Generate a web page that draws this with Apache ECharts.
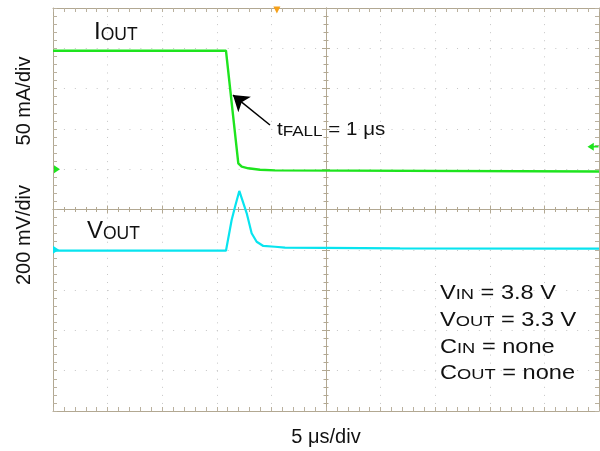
<!DOCTYPE html>
<html>
<head>
<meta charset="utf-8">
<script src="https://cdn.jsdelivr.net/npm/echarts@6/dist/echarts.min.js"></script>
<style>
  html, body { margin: 0; padding: 0; background: #fff; }
  #chart { width: 600px; height: 451px; }
</style>
</head>
<body>
<div id="chart"></div>
<script>
// ---- Scope capture: load step from 150 mA to 0 ----
// Time in µs (5 µs/div, 10 divisions centred on 0)
const currentTimeUs = [-25, -9.16, -8.03, -7.72, -7.12, -6.04, -4.67, 25];
// Output current, mA (50 mA/div)
const currentMA     = [147, 147, 7.3, 3.1, 1.1, -0.6, -1.5, -2.8];

const voltageTimeUs = [-25, -9.16, -8.64, -8.33, -7.94, -7.26, -6.81, -6.35, -5.74, -4.67, -3.75, 6.78, 25];
// Output voltage deviation, mV (200 mV/div)
const voltageMV     = [-4.5, -4.5, 148, 214, 292, 181, 82, 40, 19, 15, 11, 7, 6];

// Axis ranges (10 divisions each)
const timeRange    = [-25, 25];
const currentRange = [-300, 200];
const voltageRange = [-800, 1200];

// Channel / trigger markers
const currentGround   = [-25, 0];
const voltageGround   = [-25, 0];
const triggerPosition = [-4.5, 200];
const triggerLevel    = [25, 28];

// Annotation arrow (tail -> head), in time / current units
const fallArrow = [[-5.13, 54.8], [-8.52, 92]];

// Text
const xAxisName    = '5 μs/div';
const currentScale = '50 mA/div';
const voltageScale = '200 mV/div';
const conditions = [
  [['V', 'm'], ['IN', 's'], [' = 3.8 V', 'm']],
  [['V', 'm'], ['OUT', 's'], [' = 3.3 V', 'm']],
  [['C', 'm'], ['IN', 's'], [' = none', 'm']],
  [['C', 'm'], ['OUT', 's'], [' = none', 'm']]
];
const ioutLabel  = [['I', 'M'], ['OUT', 'S']];
const voutLabel  = [['V', 'M'], ['OUT', 'S']];
const tfallLabel = [['t', 't'], ['FALL', 'u'], [' = 1 μs', 't']];

const FONT = '"Liberation Sans", Arial, Helvetica, sans-serif';
const FRAME = '#b2a892';
const TICK = '#bab19f';
const DOT = '#c6c6c6';
const GREEN = '#1ee41e';
const CYAN = '#08e4ef';
const ORANGE = '#f5a019';

function tok(size, lh) {
  return { fontSize: size, lineHeight: lh, verticalAlign: 'bottom', fontFamily: FONT, fill: '#111' };
}
const RICH = {
  m: tok(20, 22), s: tok(15.5, 8),   // condition block
  M: tok(24, 24), S: tok(17.5, 18),  // trace names
  t: tok(18, 20), u: tok(15, 9)      // fall-time note
};

function richText(parts) {
  return parts.map(p => '{' + p[1] + '|' + p[0] + '}').join('');
}

function textEl(parts, x, y, sx) {
  return {
    type: 'text', x: x, y: y, scaleX: sx || 1, z: 50,
    style: {
      text: richText(parts), rich: RICH, fill: '#111',
      align: 'left', verticalAlign: 'middle',
      textAlign: 'left', textVerticalAlign: 'middle'
    }
  };
}

function plainText(str, x, y, rot) {
  return {
    type: 'text', x: x, y: y, rotation: rot || 0, z: 50,
    style: {
      text: str, fontSize: 20, fontFamily: FONT, fill: '#111',
      align: 'center', verticalAlign: 'middle',
      textAlign: 'center', textVerticalAlign: 'middle'
    }
  };
}

function zip(a, b) { return a.map((v, i) => [v, b[i]]); }

function frameAxis(extra) {
  return Object.assign({
    type: 'value',
    axisLine: { show: true, onZero: false, lineStyle: { color: FRAME, width: 1 } },
    axisTick: { show: true, inside: true, length: 4, lineStyle: { color: TICK } },
    minorTick: { show: true, splitNumber: 5, length: 4, lineStyle: { color: TICK } },
    axisLabel: { show: false },
    splitLine: { show: false }
  }, extra);
}

function centerAxis(extra, inside, zeroIdx) {
  return Object.assign({
    type: 'value',
    axisLine: { show: true, onZero: true, onZeroAxisIndex: zeroIdx, lineStyle: { color: FRAME, width: 1 } },
    axisTick: { show: true, inside: inside, length: 4, lineStyle: { color: FRAME } },
    minorTick: { show: true, splitNumber: 5, length: 2.5, lineStyle: { color: FRAME } },
    axisLabel: { show: false },
    splitLine: { show: false }
  }, extra);
}

const RIGHT_TRI = 'path://M0,0L10,5L0,10Z';
const LEFT_ARROW = 'path://M0,5L8,0L8,4L14,4L14,6L8,6L8,10Z';
const DOWN_TRI = 'path://M0,0L10,0L5,10Z';

const chart = echarts.init(document.getElementById('chart'), null, { renderer: 'canvas' });

chart.setOption({
  animation: false,
  backgroundColor: '#fff',
  grid: { left: 53, top: 8, width: 546, height: 403, containLabel: false, outerBoundsMode: 'none' },
  xAxis: [
    frameAxis({
      min: timeRange[0], max: timeRange[1], interval: 5, position: 'bottom',
      name: xAxisName, nameLocation: 'middle', nameGap: 16,
      nameTextStyle: { fontSize: 20, fontFamily: FONT, color: '#111' },
      splitLine: { show: true, lineStyle: { color: DOT, width: 1, type: [1, 7.06] } }
    }),
    frameAxis({ min: timeRange[0], max: timeRange[1], interval: 5, position: 'top' }),
    centerAxis({ min: timeRange[0], max: timeRange[1], interval: 5, position: 'bottom' }, true, 2),
    centerAxis({ min: timeRange[0], max: timeRange[1], interval: 5, position: 'bottom' }, false, 2)
  ],
  yAxis: [
    frameAxis({
      min: currentRange[0], max: currentRange[1], interval: 50, position: 'left',
      splitLine: { show: true, lineStyle: { color: DOT, width: 1, type: [1, 9.92] } }
    }),
    frameAxis({ min: voltageRange[0], max: voltageRange[1], interval: 200, position: 'right' }),
    centerAxis({ min: -5, max: 5, interval: 1, position: 'left' }, true, 0),
    centerAxis({ min: -5, max: 5, interval: 1, position: 'left' }, false, 0)
  ],
  series: [
    {
      name: 'IOUT', type: 'line', xAxisIndex: 0, yAxisIndex: 0,
      data: zip(currentTimeUs, currentMA),
      showSymbol: false, smooth: false, z: 5,
      lineStyle: { color: GREEN, width: 2.4 },
      markPoint: {
        label: { show: false },
        data: [
          { coord: currentGround, symbol: RIGHT_TRI, symbolSize: [6, 8], symbolOffset: [4, 0], itemStyle: { color: GREEN } },
          { coord: triggerLevel, symbol: LEFT_ARROW, symbolSize: [11, 8], symbolOffset: [-6, 0], itemStyle: { color: GREEN } },
          { coord: triggerPosition, symbol: DOWN_TRI, symbolSize: [7, 7], symbolOffset: [0, 2], itemStyle: { color: ORANGE } }
        ]
      }
    },
    {
      name: 'VOUT', type: 'line', xAxisIndex: 0, yAxisIndex: 1,
      data: zip(voltageTimeUs, voltageMV),
      showSymbol: false, smooth: false, z: 4,
      lineStyle: { color: CYAN, width: 2.2 },
      markPoint: {
        label: { show: false },
        data: [
          { coord: voltageGround, symbol: RIGHT_TRI, symbolSize: [6, 8], symbolOffset: [3, 0], itemStyle: { color: CYAN } }
        ]
      }
    },
    {
      type: 'lines', coordinateSystem: 'cartesian2d', xAxisIndex: 0, yAxisIndex: 0,
      symbol: ['none', 'arrow'], symbolSize: [11, 15], z: 6,
      lineStyle: { color: '#000', width: 1.5, opacity: 1, curveness: 0 },
      data: [{ coords: fallArrow }]
    }
  ],
  graphic: [
    textEl(ioutLabel, 94, 32),
    textEl(voutLabel, 87, 231),
    textEl(tfallLabel, 277, 129, 1.14),
    textEl(conditions[0], 440, 292, 1.18),
    textEl(conditions[1], 440, 319, 1.18),
    textEl(conditions[2], 440, 346, 1.18),
    textEl(conditions[3], 440, 372, 1.18),
    plainText(currentScale, 24, 101, Math.PI / 2),
    plainText(voltageScale, 24, 235, Math.PI / 2)
  ]
});
</script>
</body>
</html>
